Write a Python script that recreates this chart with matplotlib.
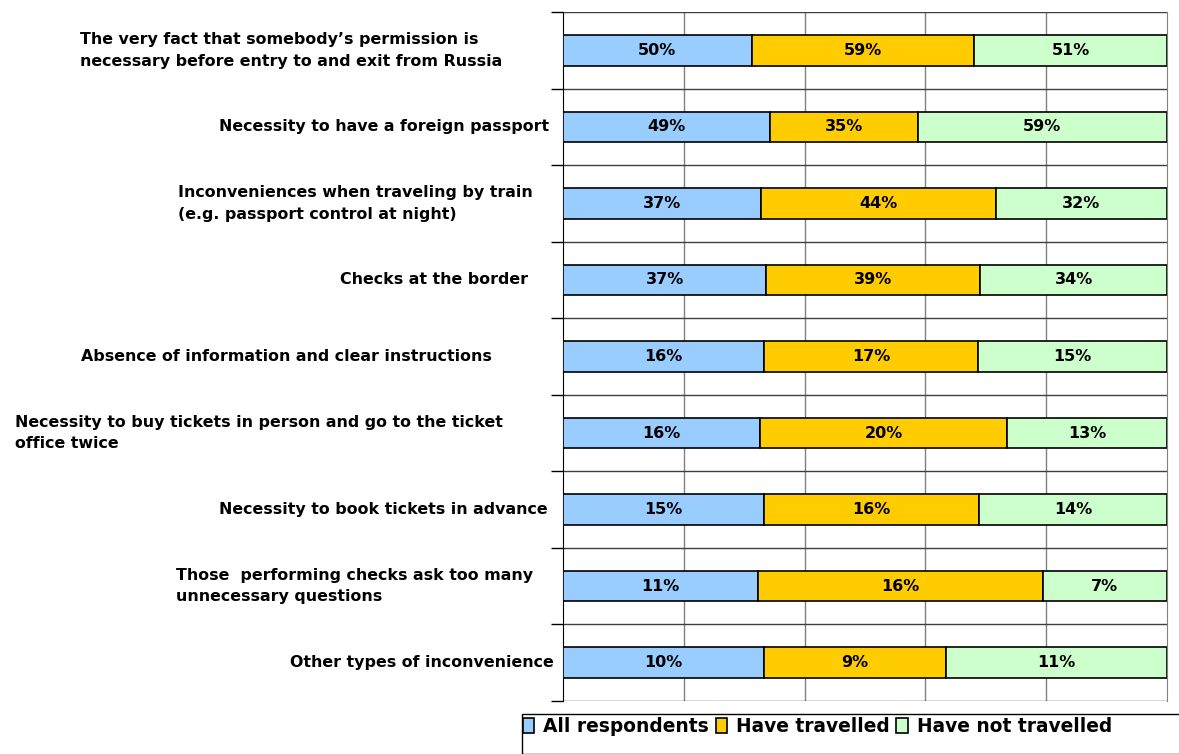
import numpy as np
import matplotlib.pyplot as plt
from matplotlib.patches import Patch, Rectangle

categories = [
    "The very fact that somebody\u2019s permission is\nnecessary before entry to and exit from Russia",
    "Necessity to have a foreign passport",
    "Inconveniences when traveling by train\n(e.g. passport control at night)",
    "Checks at the border ",
    "Absence of information and clear instructions",
    "Necessity to buy tickets in person and go to the ticket\noffice twice",
    "Necessity to book tickets in advance",
    "Those  performing checks ask too many\nunnecessary questions",
    "Other types of inconvenience",
]
all_resp = [50, 49, 37, 37, 16, 16, 15, 11, 10]
travelled = [59, 35, 44, 39, 17, 20, 16, 16, 9]
not_travelled = [51, 59, 32, 34, 15, 13, 14, 7, 11]
series_names = ["All respondents", "Have travelled", "Have not travelled"]
colors = ["#99CCFF", "#FFCC00", "#CCFFCC"]

# right edge of each category label, in pixels (layout only)
label_right_px = [502, 549, 533, 533, 492, 503, 548, 533, 554]

W, H = 1179, 754
fig = plt.figure(figsize=(W / 100, H / 100), dpi=100)
ax = fig.add_axes([563 / W, 1 - 701 / H, (1167 - 563) / W, (701 - 12) / H])

data = np.array([all_resp, travelled, not_travelled], dtype=float)
shares = data / data.sum(axis=0)
y = np.arange(len(categories))

left = np.zeros(len(categories))
for i in range(3):
    ax.barh(y, shares[i], left=left, height=0.4, color=colors[i],
            edgecolor="black", linewidth=1.2, zorder=3)
    for j in range(len(categories)):
        ax.text(left[j] + shares[i][j] / 2, y[j], f"{int(data[i][j])}%",
                ha="center", va="center", fontsize=11.5, fontweight="bold", zorder=4)
    left += shares[i]

ax.set_xlim(0, 1)
ax.set_ylim(len(categories) - 0.5, -0.5)

# grid: vertical lines at 20% steps, horizontal lines at category boundaries
for xv in [0.2, 0.4, 0.6, 0.8]:
    ax.axvline(xv, color="#808080", lw=1, zorder=1)
for b in np.arange(-0.5, len(categories), 1.0):
    ax.axhline(b, color="#404040", lw=1, zorder=1)

ax.set_xticks([])
ax.set_yticks(np.arange(-0.5, len(categories), 1.0))
ax.set_yticklabels([])
ax.tick_params(axis="y", length=9, width=1, color="black", direction="out")
for s in ["top", "bottom"]:
    ax.spines[s].set_visible(False)
ax.spines["right"].set_color("#808080")
ax.spines["left"].set_color("black")

trans = ax.get_yaxis_transform()
for j, lab in enumerate(categories):
    ax.text((label_right_px[j] - 563) / (1167 - 563), y[j], lab, transform=trans,
            ha="right", va="center", multialignment="left",
            fontsize=11.4, fontweight="bold", linespacing=1.55)

# legend box
fig.patches.append(Rectangle((522 / W, 0), 1 - 522 / W + 0.01, (H - 714) / H,
                             transform=fig.transFigure, fill=False,
                             edgecolor="black", lw=1))
handles = [Patch(facecolor=c, edgecolor="black", lw=1.2) for c in colors]
fig.legend(handles, series_names, loc="upper left",
           bbox_to_anchor=(523 / W, 1 - 717 / H), ncol=3, frameon=False,
           prop={"weight": "bold", "size": 13.4}, handlelength=0.6, handleheight=0.9,
           handletextpad=0.5, columnspacing=0.35, borderaxespad=0, borderpad=0)

fig.savefig("out.png", dpi=100)
